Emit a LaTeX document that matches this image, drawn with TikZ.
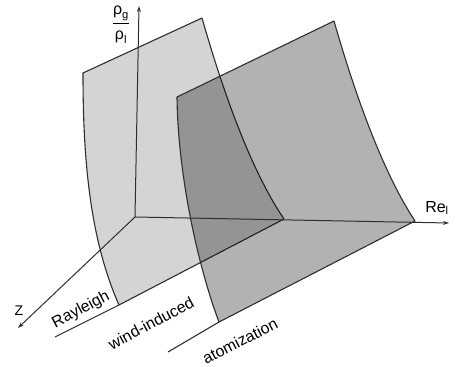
\documentclass[tikz,border=0pt]{standalone}
\usepackage{amsmath}
\usepackage{fontspec}
\setmainfont{Liberation Sans}
\usetikzlibrary{arrows.meta}

\begin{document}
\begin{tikzpicture}[x=1pt,y=-1pt,
line/.style={draw=black!82,line width=1.1pt,line join=round},
lite/.style={line,fill=black,fill opacity=0.17},
dark/.style={line,fill=black,fill opacity=0.30},
axis/.style={draw=black!82,line width=1pt,-{Stealth[length=6pt,width=4pt]}},
lbl/.style={font=\fontsize{16}{18}\selectfont,inner sep=0pt}]
\useasboundingbox (0,0) rectangle (456,367);
% corners of the two boundary sheets
\coordinate (o) at (135,217);
\coordinate (atl) at (83,73); \coordinate (atr) at (202,18);
\coordinate (abr) at (284,219); \coordinate (abl) at (119,305);
\coordinate (btl) at (177,97); \coordinate (btr) at (334,21);
\coordinate (bbr) at (415,221); \coordinate (bbl) at (219,322);
\coordinate (aend) at (55,337); \coordinate (bend) at (168,352);
% Rayleigh / wind-induced sheet
\path[lite] (atl) -- (atr) .. controls (222,88) and (250,169) .. (abr)
  -- (abl) .. controls (88,235) and (83,150) .. (atl) -- cycle;
% wind-induced / atomization sheet
\path[dark] (btl) -- (btr) .. controls (354,91) and (382,171) .. (bbr)
  -- (bbl) .. controls (200,272) and (178,180) .. (btl) -- cycle;
\draw[line] (abl) -- (aend);
\draw[line] (bbl) -- (bend);
% axes
\coordinate (ytip) at (139,6); \coordinate (xtip) at (449,223); \coordinate (ztip) at (18,328);
\draw[axis] (o) -- (ytip);
\draw[axis] (o) -- (xtip);
\draw[axis] (o) -- (ztip);
\node[lbl] (rho) at (121,25) {$\dfrac{\text{ρ}_{\text{g}}}{\text{ρ}_{\text{l}}}$};
\node[lbl] (re) at (437,208) {Re\textsubscript{l}};
\node[lbl,font=\fontsize{14}{16}\selectfont] (z) at (19,311) {Z};
\node[lbl,rotate=28] (ray) at (81,310) {Rayleigh};
\node[lbl,rotate=28] (wind) at (151,323) {wind-induced};
\node[lbl,rotate=27] (atom) at (240,341) {atomization};
\end{tikzpicture}
\end{document}
